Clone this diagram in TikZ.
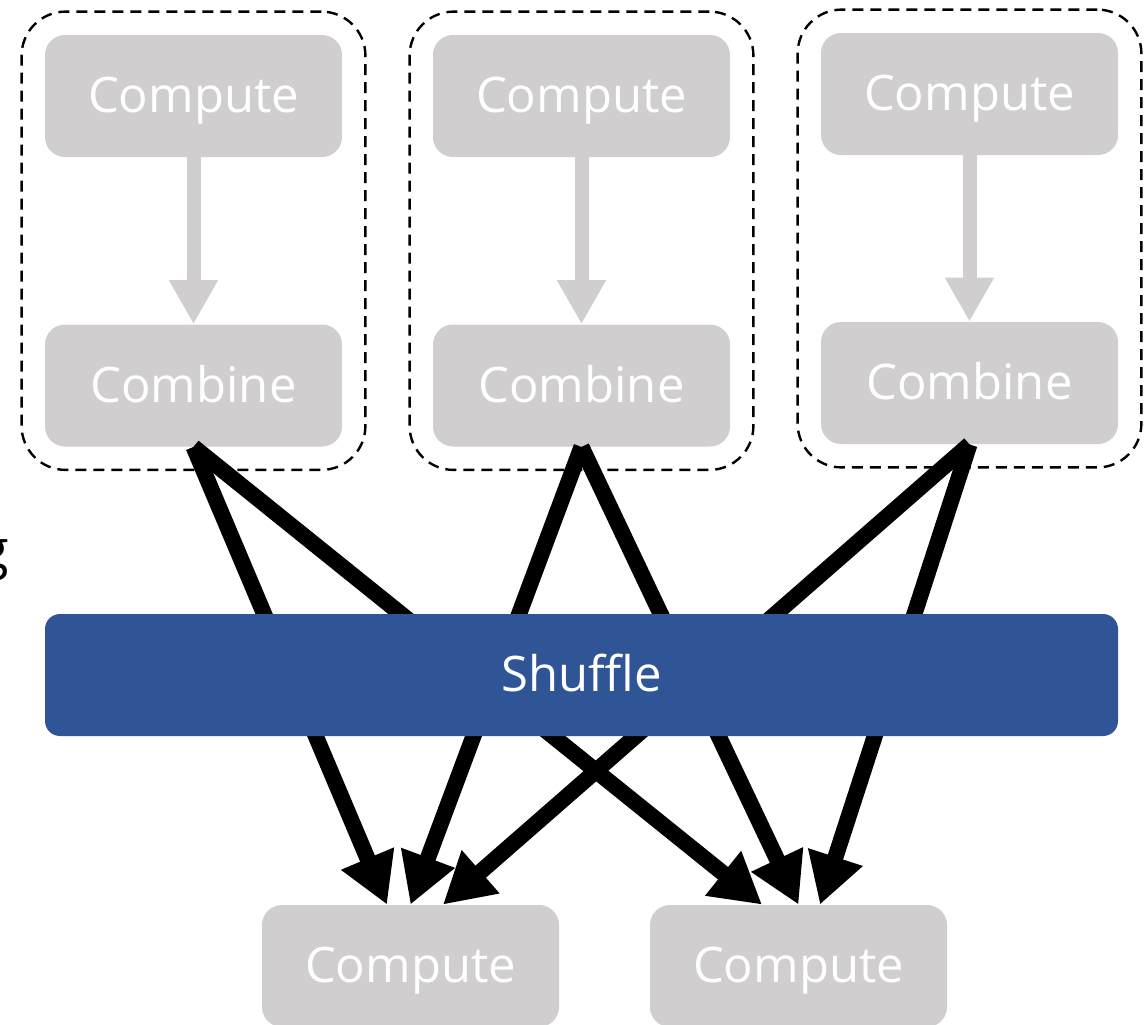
\documentclass[tikz,border=0pt]{standalone}
\usepackage{fontspec}
\setmainfont{Open Sans}
\usetikzlibrary{arrows.meta,calc,fit}
\definecolor{boxgray}{HTML}{D0CECE}
\definecolor{shblue}{HTML}{2F5597}
\begin{document}
\begin{tikzpicture}[x=0.5pt,y=-0.5pt,
  stage/.style={fill=boxgray, rounded corners=10pt, minimum width=148.5pt, minimum height=61pt, inner sep=0pt, text=white, text height=18pt, text depth=1.5pt, font=\fontsize{24.5}{28}\selectfont},
  group/.style={draw=black, line width=1.2pt, dash pattern=on 5.5pt off 3.5pt, rounded corners=22pt, inner xsep=11.5pt, inner ysep=11.5pt},
  localarrow/.style={draw=boxgray, line width=7pt, -{Triangle[length=22pt,width=23pt]}},
  shufarrow/.style={draw=black, line width=8pt, -{Triangle[length=25pt,width=27pt]}},
  shufbar/.style={fill=shblue, rounded corners=7.5pt, minimum width=536.5pt, minimum height=61pt, inner sep=0pt, text=white, text height=18pt, text depth=1.5pt, font=\fontsize{24.5}{28}\selectfont},
]
\useasboundingbox (0,0) rectangle (1145,1024);

% clipped label fragment at the left edge
\node[anchor=base east, inner sep=0pt, font=\fontsize{27}{30}\selectfont] (frag) at (9,568) {g};

% stage nodes
\node[stage] (c1) at (193.5,96) {Compute};
\node[stage] (m1) at (193.5,385.5) {Combine};
\node[stage] (c2) at (581.5,96) {Compute};
\node[stage] (m2) at (581.5,385.5) {Combine};
\node[stage] (c3) at (969.5,94) {Compute};
\node[stage] (m3) at (969.5,383) {Combine};
\node[stage] (b1) at (410.5,966) {Compute};
\node[stage] (b2) at (798.5,966) {Compute};

% dashed groups
\node[group, fit=(c1)(m1)] (g1) {};
\node[group, fit=(c2)(m2)] (g2) {};
\node[group, fit=(c3)(m3)] (g3) {};

% local arrows
\draw[localarrow] (c1.south) -- (m1.north);
\draw[localarrow] (c2.south) -- (m2.north);
\draw[localarrow] (c3.south) -- (m3.north);

% shuffle arrows
\draw[shufarrow] (m1.south) -- ($(b1.north)+(-23.5,0)$);
\draw[shufarrow] (m2.south) -- (b1.north);
\draw[shufarrow] (m3.south) -- ($(b1.north)+(32.5,0)$);
\draw[shufarrow] (m1.south) -- ($(b2.north)+(-36.5,0)$);
\draw[shufarrow] (m2.south) -- (b2.north);
\draw[shufarrow] (m3.south) -- ($(b2.north)+(21.5,0)$);

% shuffle bar on top
\node[shufbar] (sh) at (581.5,675) {Shuffle};
\end{tikzpicture}
\end{document}
